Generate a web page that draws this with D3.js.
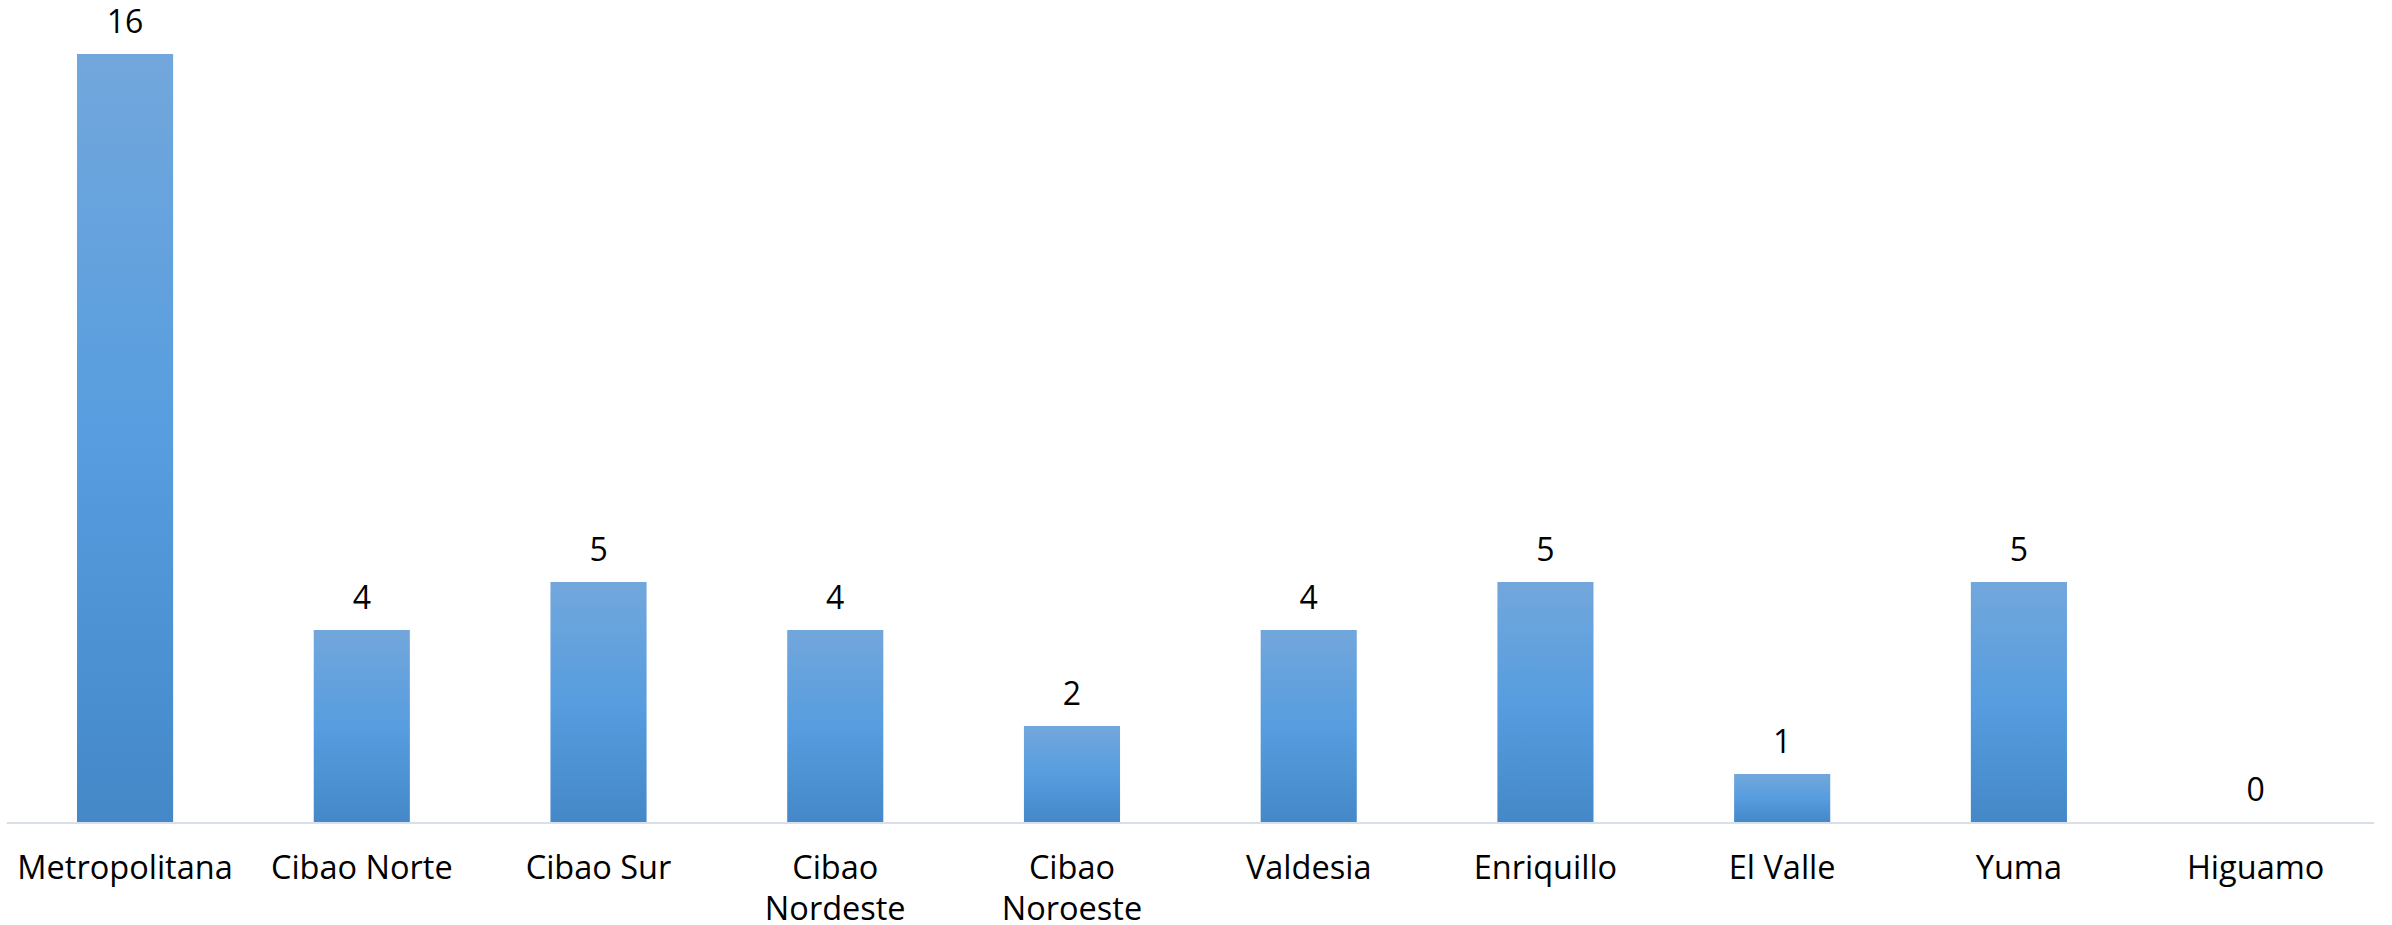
<!DOCTYPE html>
<html><head><meta charset="utf-8">
<script src="https://cdn.jsdelivr.net/npm/d3@7"></script>
<style>html,body{margin:0;padding:0;background:#fff;}svg{display:block;}</style>
</head><body>
<svg id="chart" width="2392" height="925"></svg>
<script>
const categories = ["Metropolitana","Cibao Norte","Cibao Sur","Cibao Nordeste","Cibao Noroeste","Valdesia","Enriquillo","El Valle","Yuma","Higuamo"];
const labelLines = [["Metropolitana"],["Cibao Norte"],["Cibao Sur"],["Cibao","Nordeste"],["Cibao","Noroeste"],["Valdesia"],["Enriquillo"],["El Valle"],["Yuma"],["Higuamo"]];
const values = [16,4,5,4,2,4,5,1,5,0];

const svg = d3.select("#chart");
const baseY = 822;
const x = d3.scaleBand().domain(categories).range([6.7, 2374]).paddingInner(0.594).paddingOuter(0.297);
const y = d3.scaleLinear().domain([0, 16]).range([baseY, baseY - 768]);

const defs = svg.append("defs");
const grad = defs.append("linearGradient").attr("id","barGrad").attr("x1",0).attr("y1",0).attr("x2",0).attr("y2",1);
grad.append("stop").attr("offset","0%").attr("stop-color","#72a7dc");
grad.append("stop").attr("offset","50%").attr("stop-color","#579ddf");
grad.append("stop").attr("offset","100%").attr("stop-color","#4488c8");

const font = "'Open Sans', sans-serif";

svg.append("g").selectAll("rect").data(values).join("rect")
  .attr("x",(d,i)=>x(categories[i]))
  .attr("width",x.bandwidth())
  .attr("y",d=>y(d))
  .attr("height",d=>baseY - y(d))
  .attr("fill","url(#barGrad)");

svg.append("line").attr("x1",6.7).attr("x2",2374).attr("y1",baseY+1).attr("y2",baseY+1)
  .attr("stroke","#d9dfe8").attr("stroke-width",2);

svg.append("g").selectAll("text").data(values).join("text")
  .attr("x",(d,i)=>x(categories[i])+x.bandwidth()/2)
  .attr("y",d=>y(d)-21)
  .attr("text-anchor","middle")
  .attr("font-family",font).attr("font-size",32).attr("fill","#000")
  .text(d=>d);

const lab = svg.append("g").selectAll("text").data(labelLines).join("text")
  .attr("x",(d,i)=>x(categories[i])+x.bandwidth()/2)
  .attr("y",879)
  .attr("text-anchor","middle")
  .attr("font-family",font).attr("font-size",32.5).attr("fill","#000");
lab.selectAll("tspan").data(d=>d).join("tspan")
  .attr("x",function(){return this.parentNode.getAttribute("x");})
  .attr("dy",(d,i)=>i===0?0:41)
  .text(d=>d);
</script>
</body></html>
